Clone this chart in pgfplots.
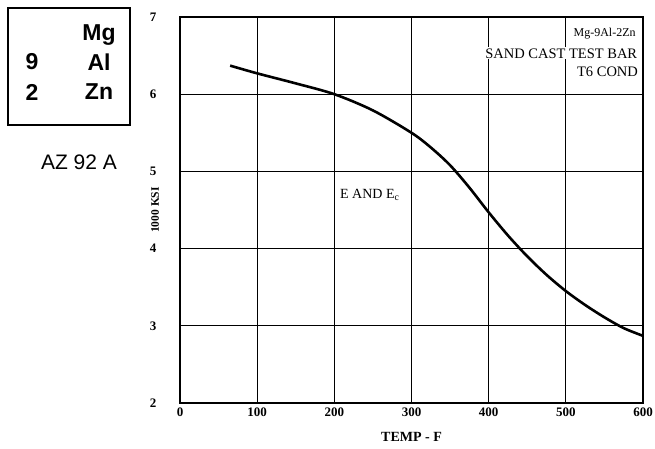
\documentclass[border=0pt]{standalone}
\usepackage{pgfplots}
\pgfplotsset{compat=1.18}
\usepackage{fontspec}
\setmainfont{Liberation Serif}
\newfontfamily\boxfont{Liberation Sans}
\begin{document}
\begin{tikzpicture}[x=1pt,y=1pt]
\useasboundingbox (0,0) rectangle (655,449);
\begin{axis}[
  at={(180pt,46pt)}, anchor=south west,
  scale only axis, width=463pt, height=386pt,
  xmin=0, xmax=600, ymin=2, ymax=7,
  xtick={0,100,...,600}, ytick={2,3,...,7},
  grid=major, major grid style={black, line width=1.1pt},
  axis line style={line width=1.8pt},
  major tick length=0pt,
  /pgf/number format/assume math mode=true,
  tick label style={font=\fontsize{13}{14}\selectfont\bfseries},
  yticklabel style={xshift=-20pt},
  xticklabel style={yshift=-1pt},
  xlabel={TEMP - F}, ylabel={1000 KSI},
  xlabel style={font=\fontsize{14}{15}\selectfont\bfseries, at={(axis description cs:0.5,-0.088)}, anchor=center},
  ylabel style={font=\fontsize{11.5}{12}\selectfont\bfseries, at={(axis description cs:-0.054,0.5)}, anchor=center},
  clip=false,
]
\addplot[black, line width=2.6pt, smooth, tension=0.5] coordinates {
(65,6.37) (100,6.27) (150,6.14) (200,6.0) (250,5.79) (300,5.5) (325,5.31) (350,5.08) (375,4.79) (400,4.47) (425,4.17) (450,3.90) (475,3.66) (500,3.45) (525,3.27) (550,3.11) (575,2.97) (600,2.87)
};
\node[anchor=east, fill=white, inner sep=1pt, font=\fontsize{12}{13}\selectfont] at (axis cs:592,6.79) {Mg-9Al-2Zn};
\node[anchor=east, fill=white, inner sep=1pt, font=\fontsize{14.5}{15}\selectfont] at (axis cs:594,6.53) {SAND CAST TEST BAR};
\node[anchor=east, fill=white, inner sep=1pt, font=\fontsize{14.5}{15}\selectfont] at (axis cs:595,6.29) {T6 COND};
\node[anchor=west, font=\fontsize{14}{15}\selectfont] at (axis cs:203,4.69) {E AND E\textsubscript{c}};
\end{axis}
\draw[line width=2.2pt] (8,324) rectangle (130,441);
\node[font=\boxfont\bfseries\fontsize{23}{25}\selectfont] at (99,414) {Mg};
\node[font=\boxfont\bfseries\fontsize{23}{25}\selectfont] at (32,387) {9};
\node[font=\boxfont\bfseries\fontsize{23}{25}\selectfont] at (99,387) {Al};
\node[font=\boxfont\bfseries\fontsize{23}{25}\selectfont] at (32,357) {2};
\node[font=\boxfont\bfseries\fontsize{23}{25}\selectfont] at (99,357) {Zn};
\node[font=\boxfont\fontsize{21}{23}\selectfont] at (79,287) {AZ 92 A};
\end{tikzpicture}
\end{document}
